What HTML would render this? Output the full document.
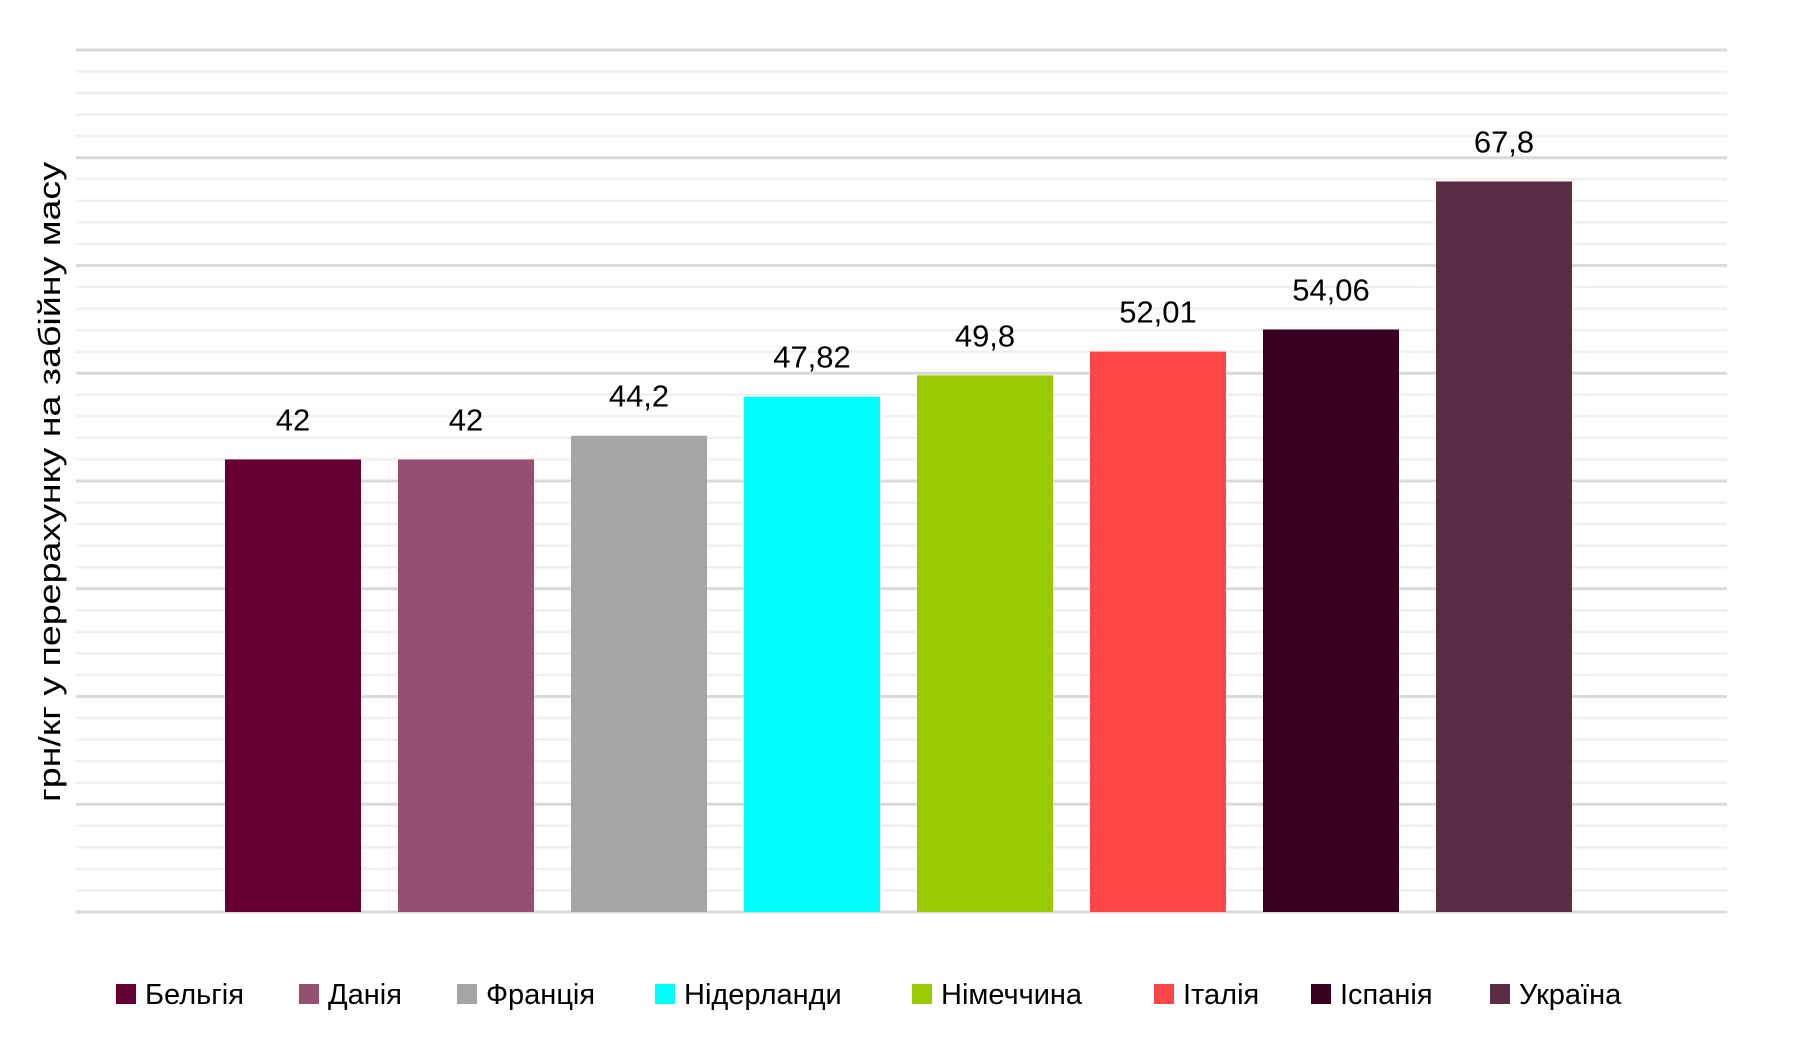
<!DOCTYPE html>
<html><head><meta charset="utf-8"><style>
html,body{margin:0;padding:0;background:#fff;}
svg{display:block;font-family:"Liberation Sans","DejaVu Sans",sans-serif;}
</style></head><body>
<svg id="chart" width="1795" height="1049" viewBox="0 0 1795 1049" xmlns="http://www.w3.org/2000/svg">
<g id="grid"></g>
<g id="bars"></g>
<g id="labels"></g>
<text x="0" y="0" transform="translate(60,482) rotate(-90)" text-anchor="middle" font-size="31" fill="#000" textLength="640" lengthAdjust="spacingAndGlyphs">грн/кг у перерахунку на забійну масу</text>
<g id="legend"></g>
</svg>
<script>
const categories = ["Бельгія","Данія","Франція","Нідерланди","Німеччина","Італія","Іспанія","Україна"];
const values = [42, 42, 44.2, 47.82, 49.8, 52.01, 54.06, 67.8];
const valueLabels = ["42","42","44,2","47,82","49,8","52,01","54,06","67,8"];
const colors = ["#660033","#955070","#a5a5a5","#00ffff","#99cc00","#ff4747","#3b0020","#5a2d44"];
const yMax = 80, minorStep = 2, majorStep = 10;

const NS = "http://www.w3.org/2000/svg";
const plotL = 76, plotR = 1727, plotT = 50, plotB = 912;
const firstCenter = 293, band = 173, barW = 136;
function y(v){ return plotB - (v / yMax) * (plotB - plotT); }
function x(i){ return firstCenter + i * band; }
function mk(tag, attrs, parent){ const e = document.createElementNS(NS, tag); for (const k in attrs) e.setAttribute(k, attrs[k]); parent.appendChild(e); return e; }

const grid = document.getElementById('grid');
for (let v = 0; v <= yMax + 1e-9; v += minorStep) {
  const major = Math.abs(v % majorStep) < 1e-9;
  const l = mk('line', {x1: plotL, x2: plotR, y1: y(v), y2: y(v), stroke: major ? '#d9d9d9' : '#efefef', 'stroke-width': major ? 3 : 2.5}, grid);
  
  
}

const bars = document.getElementById('bars');
const labels = document.getElementById('labels');
values.forEach((v, i) => {
  const r = mk('rect', {x: x(i) - barW / 2, y: y(v), width: barW, height: plotB - y(v), fill: colors[i]}, bars);
  
  
  const t = mk('text', {x: x(i), y: y(v) - 29, 'text-anchor': 'middle', 'font-size': 31, fill: '#000'}, labels);
  t.textContent = valueLabels[i];
  
  
});

const legendX = [116, 299, 457, 655, 912, 1154, 1311, 1490];
const legend = document.getElementById('legend');
categories.forEach((c, i) => {
  const g = mk('g', {}, legend);
  
  
  const s = mk('rect', {x: legendX[i], y: 984, width: 20, height: 20, fill: colors[i]}, g);
  
  
  const t = mk('text', {x: legendX[i] + 29, y: 1004, 'font-size': 29, fill: '#000'}, g);
  t.textContent = c;
  
  
});
</script>
</body></html>
